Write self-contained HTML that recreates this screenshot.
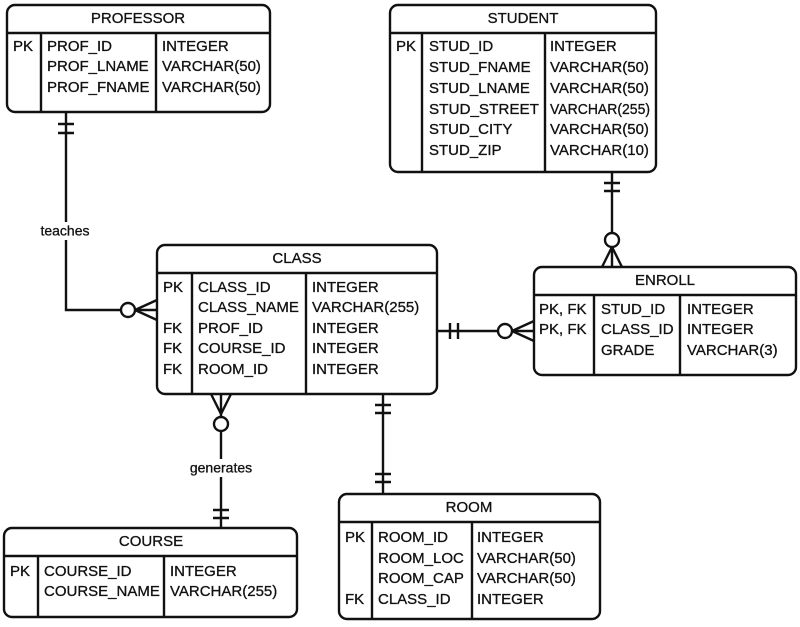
<!DOCTYPE html>
<html><head><meta charset="utf-8"><style>
body{margin:0;background:#fff;}
svg{display:block}
text{font-family:"Liberation Sans",sans-serif;font-size:15px;fill:#111;dominant-baseline:middle;stroke:#111;stroke-width:0.3}
.h{text-anchor:middle}
.b{fill:none;stroke:#111;stroke-width:2.4}
</style></head><body>
<svg width="800" height="627" viewBox="0 0 800 627" xmlns="http://www.w3.org/2000/svg">
<!-- connectors -->
<g class="b">
<path d="M66 112 V310 H157"/>
<path d="M58 124 H74 M58 133 H74"/>
<circle cx="128" cy="310" r="7" fill="#fff"/>
<path d="M135 310 L157 300 M135 310 L157 320"/>
<path d="M612 172 V267"/>
<path d="M604 183 H620 M604 191 H620"/>
<circle cx="612" cy="240" r="7" fill="#fff"/>
<path d="M612 247 L602 267 M612 247 L622 267"/>
<path d="M437 331 H534"/>
<path d="M450 323 V339 M458 323 V339"/>
<circle cx="505" cy="331" r="7" fill="#fff"/>
<path d="M512 331 L534 321 M512 331 L534 341"/>
<path d="M221 394 V528"/>
<path d="M221 414 L211 394 M221 414 L231 394"/>
<circle cx="221" cy="424" r="7" fill="#fff"/>
<path d="M213 510 H229 M213 518 H229"/>
<path d="M383 394 V494"/>
<path d="M375 405 H391 M375 413 H391 M375 474 H391 M375 482 H391"/>
</g>
<rect x="28" y="222" width="74" height="18" fill="#fff"/>
<text x="65" y="232" class="h" style="font-size:14px">teaches</text>
<rect x="176" y="459" width="90" height="18" fill="#fff"/>
<text x="221" y="469" class="h" style="font-size:14px">generates</text>

<!-- PROFESSOR -->
<g class="b"><rect x="7" y="5" width="263" height="107" rx="8"/><path d="M7 33 H270 M41 33 V112 M156 33 V112"/></g>
<text x="138" y="19" class="h">PROFESSOR</text>
<text x="13" y="47">PK</text>
<text x="47" y="47">PROF_ID</text><text x="162" y="47">INTEGER</text>
<text x="47" y="67">PROF_LNAME</text><text x="162" y="67">VARCHAR(50)</text>
<text x="47" y="88">PROF_FNAME</text><text x="162" y="88">VARCHAR(50)</text>

<!-- STUDENT -->
<g class="b"><rect x="390" y="5" width="266" height="167" rx="8"/><path d="M390 33 H656 M422 33 V172 M545 33 V172"/></g>
<text x="523" y="19" class="h">STUDENT</text>
<text x="396" y="47">PK</text>
<text x="429" y="47">STUD_ID</text><text x="550" y="47">INTEGER</text>
<text x="429" y="68">STUD_FNAME</text><text x="550" y="68">VARCHAR(50)</text>
<text x="429" y="89">STUD_LNAME</text><text x="550" y="89">VARCHAR(50)</text>
<text x="429" y="110" textLength="110" lengthAdjust="spacingAndGlyphs">STUD_STREET</text><text x="550" y="110" textLength="100" lengthAdjust="spacingAndGlyphs">VARCHAR(255)</text>
<text x="429" y="130">STUD_CITY</text><text x="550" y="130">VARCHAR(50)</text>
<text x="429" y="151">STUD_ZIP</text><text x="550" y="151">VARCHAR(10)</text>

<!-- CLASS -->
<g class="b"><rect x="157" y="245" width="280" height="149" rx="8"/><path d="M157 273 H437 M192 273 V394 M306 273 V394"/></g>
<text x="297" y="259" class="h">CLASS</text>
<text x="163" y="288">PK</text><text x="198" y="288">CLASS_ID</text><text x="312" y="288">INTEGER</text>
<text x="198" y="308">CLASS_NAME</text><text x="312" y="308">VARCHAR(255)</text>
<text x="163" y="329">FK</text><text x="198" y="329">PROF_ID</text><text x="312" y="329">INTEGER</text>
<text x="163" y="349">FK</text><text x="198" y="349">COURSE_ID</text><text x="312" y="349">INTEGER</text>
<text x="163" y="370">FK</text><text x="198" y="370">ROOM_ID</text><text x="312" y="370">INTEGER</text>

<!-- ENROLL -->
<g class="b"><rect x="534" y="267" width="262" height="108" rx="8"/><path d="M534 295 H796 M594 295 V375 M680 295 V375"/></g>
<text x="665" y="281" class="h">ENROLL</text>
<text x="539" y="310">PK, FK</text><text x="601" y="310">STUD_ID</text><text x="687" y="310">INTEGER</text>
<text x="539" y="330">PK, FK</text><text x="601" y="330">CLASS_ID</text><text x="687" y="330">INTEGER</text>
<text x="601" y="351">GRADE</text><text x="687" y="351">VARCHAR(3)</text>

<!-- COURSE -->
<g class="b"><rect x="4" y="528" width="293" height="89" rx="8"/><path d="M4 556 H297 M38 556 V617 M164 556 V617"/></g>
<text x="151" y="542" class="h">COURSE</text>
<text x="10" y="572">PK</text><text x="44" y="572">COURSE_ID</text><text x="170" y="572">INTEGER</text>
<text x="44" y="592">COURSE_NAME</text><text x="170" y="592">VARCHAR(255)</text>

<!-- ROOM -->
<g class="b"><rect x="339" y="494" width="261" height="125" rx="8"/><path d="M339 522 H600 M372 522 V619 M472 522 V619"/></g>
<text x="469" y="508" class="h">ROOM</text>
<text x="345" y="538">PK</text><text x="378" y="538">ROOM_ID</text><text x="477" y="538">INTEGER</text>
<text x="378" y="559">ROOM_LOC</text><text x="477" y="559">VARCHAR(50)</text>
<text x="378" y="579">ROOM_CAP</text><text x="477" y="579">VARCHAR(50)</text>
<text x="345" y="600">FK</text><text x="378" y="600">CLASS_ID</text><text x="477" y="600">INTEGER</text>
</svg>
</body></html>
